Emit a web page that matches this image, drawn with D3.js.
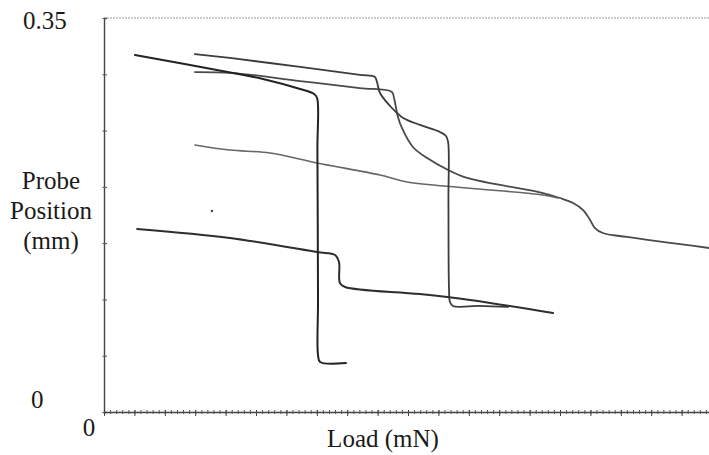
<!DOCTYPE html>
<html>
<head>
<meta charset="utf-8">
<script src="https://cdn.jsdelivr.net/npm/d3@7"></script>
<style>
  html, body { margin: 0; padding: 0; background: #fff; }
  svg { display: block; }
  text { font-family: "Liberation Serif", "Times New Roman", serif; fill: #1a1a1a; }
</style>
</head>
<body>
<svg id="chart" width="709" height="455"></svg>
<script>
// Load (x) in axis units, Probe position (y) in mm
const curveA_load = [1.02, 4.24, 5.23, 6.45, 6.91, 7.01, 7.02, 7.04, 7.04, 7.11, 7.96];
const curveA_pos  = [0.3171, 0.3011, 0.2958, 0.2869, 0.2825, 0.2789, 0.2327, 0.0995, 0.0506, 0.0444, 0.0435];

const curveB_load = [2.99, 4.14, 6.45, 8.42, 8.91, 8.98, 9.08, 9.41, 9.64, 9.84, 10.39, 11.05, 11.25, 11.32, 11.33, 11.35, 11.38, 11.48, 12.37, 13.29];
const curveB_pos  = [0.3180, 0.3145, 0.3065, 0.2994, 0.2976, 0.2931, 0.2834, 0.2718, 0.2656, 0.2612, 0.2550, 0.2487, 0.2452, 0.2398, 0.1883, 0.1084, 0.0977, 0.0942, 0.0942, 0.0933];

const curveC_load = [2.99, 4.24, 6.45, 8.42, 9.47, 9.54, 9.67, 9.80, 10.16, 10.63, 11.32, 11.94, 13.03, 14.44, 15.00, 15.43, 15.76, 15.99, 16.15, 16.41, 17.20, 19.90];
const curveC_pos  = [0.3020, 0.3011, 0.2940, 0.2878, 0.2843, 0.2789, 0.2621, 0.2523, 0.2354, 0.2256, 0.2150, 0.2079, 0.2017, 0.1945, 0.1901, 0.1857, 0.1794, 0.1706, 0.1634, 0.1590, 0.1555, 0.1457];

const curveD_load = [1.09, 4.14, 7.01, 7.60, 7.73, 7.76, 7.93, 10.39, 12.04, 14.77];
const curveD_pos  = [0.1626, 0.1546, 0.1421, 0.1395, 0.1332, 0.1146, 0.1110, 0.1048, 0.0995, 0.0879];

const curveE_load = [2.99, 4.14, 5.46, 7.01, 9.08, 9.97, 11.94, 14.44, 14.93];
const curveE_pos  = [0.2372, 0.2327, 0.2301, 0.2212, 0.2105, 0.2043, 0.1990, 0.1928, 0.1901];

const strayPoint = [3.55, 0.1786];

const yTickValues = [0, 0.05, 0.10, 0.15, 0.20, 0.25, 0.30, 0.35];
const yTickLabels = ["0", "0.35"];
const xTickLabel = "0";
const xTitle = "Load (mN)";
const yTitle = ["Probe", "Position", "(mm)"];

const svg = d3.select("#chart");
const x = d3.scaleLinear().domain([0, 20]).range([104, 712]);
const y = d3.scaleLinear().domain([0, 0.35]).range([412, 18]);

// top dotted border
svg.append("line")
  .attr("x1", x(0)).attr("x2", 709)
  .attr("y1", y(0.35)).attr("y2", y(0.35))
  .attr("stroke", "#9a9a9a").attr("stroke-width", 1)
  .attr("stroke-dasharray", "2,1");

// y axis
const yAxis = d3.axisLeft(y).tickValues(yTickValues).tickSize(-3).tickFormat("");
const gy = svg.append("g").attr("transform", `translate(${x(0)},0)`).call(yAxis);
gy.select(".domain").attr("stroke", "#444").attr("stroke-width", 1.4);
gy.selectAll(".tick line").attr("stroke", "#555").attr("x1", -1.5);

// x axis: minor + major ticks
const minor = d3.range(0, 20.01, 0.2);
const major = d3.range(0, 20.01, 1);
const gx = svg.append("g").attr("transform", `translate(0,${y(0)})`);
gx.call(d3.axisBottom(x).tickValues(minor).tickSize(2).tickFormat(""));
gx.select(".domain").attr("stroke", "#444").attr("stroke-width", 1.4);
gx.selectAll(".tick line").attr("stroke", "#555").attr("y1", -2);
const gx2 = svg.append("g").attr("transform", `translate(0,${y(0)})`);
gx2.call(d3.axisBottom(x).tickValues(major).tickSize(4).tickFormat(""));
gx2.select(".domain").remove();
gx2.selectAll(".tick line").attr("stroke", "#444").attr("y1", -2);

// curves
const line = d3.line().x(d => x(d[0])).y(d => y(d[1])).curve(d3.curveCatmullRom.alpha(0.5));
const series = [
  {lx: curveC_load, py: curveC_pos, color: "#4a4a4a", w: 1.8},
  {lx: curveE_load, py: curveE_pos, color: "#666", w: 1.6},
  {lx: curveB_load, py: curveB_pos, color: "#3c3c3c", w: 1.8},
  {lx: curveD_load, py: curveD_pos, color: "#2e2e2e", w: 2.0},
  {lx: curveA_load, py: curveA_pos, color: "#222", w: 2.0}
];
series.forEach(s => {
  const pts = s.lx.map((v, i) => [v, s.py[i]]);
  svg.append("path").attr("d", line(pts))
    .attr("fill", "none").attr("stroke", s.color)
    .attr("stroke-width", s.w).attr("stroke-linejoin", "round").attr("stroke-linecap", "round");
});

svg.append("circle").attr("cx", x(strayPoint[0])).attr("cy", y(strayPoint[1]))
  .attr("r", 1.2).attr("fill", "#444");

// labels
const fs = 25;
svg.append("text").attr("x", 23).attr("y", 29).attr("font-size", fs).text(yTickLabels[1]);
svg.append("text").attr("x", 31).attr("y", 408).attr("font-size", fs).text(yTickLabels[0]);
svg.append("text").attr("x", 89).attr("y", 436).attr("font-size", fs).attr("text-anchor", "middle").text(xTickLabel);
svg.append("text").attr("x", 383).attr("y", 447).attr("font-size", fs).attr("text-anchor", "middle").text(xTitle);
yTitle.forEach((t, i) => {
  svg.append("text").attr("x", 51).attr("y", 189 + i * 30).attr("font-size", fs)
    .attr("text-anchor", "middle").text(t);
});
</script>
</body>
</html>
